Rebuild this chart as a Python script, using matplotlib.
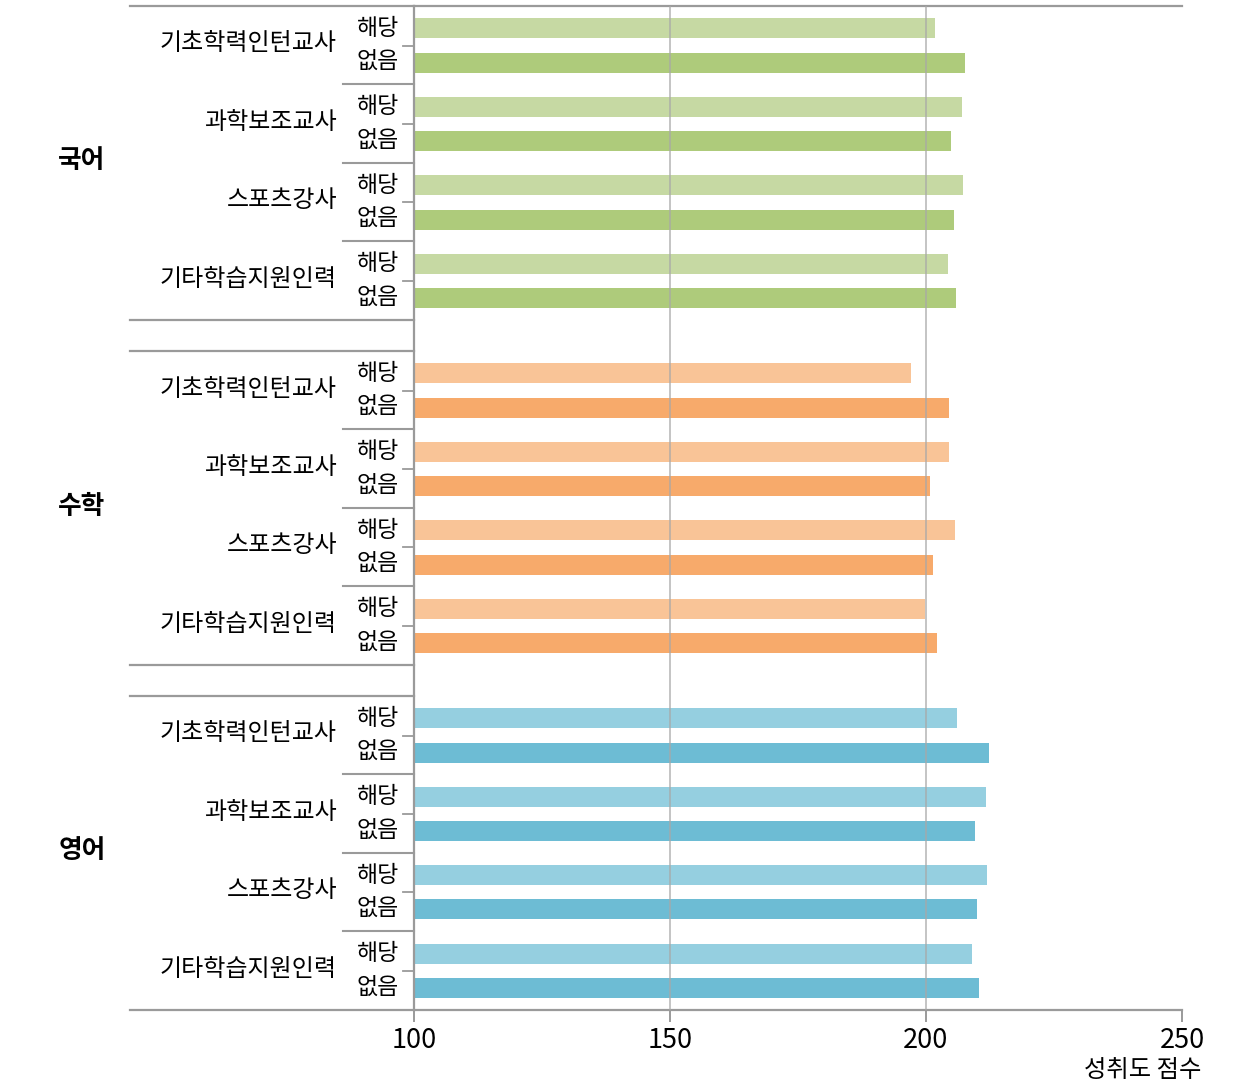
import matplotlib
matplotlib.use("Agg")
import matplotlib.pyplot as plt

plt.rcParams['font.family'] = ['Noto Sans CJK KR', 'DejaVu Sans']

# 데이터
subjects = ["국어", "수학", "영어"]
staff_types = ["기초학력인턴교사", "과학보조교사", "스포츠강사", "기타학습지원인력"]
status_labels = ["해당", "없음"]

kor_yes = [201.8, 207.0, 207.2, 204.3]
kor_no = [207.7, 204.9, 205.4, 205.8]
math_yes = [197.1, 204.5, 205.6, 199.8]
math_no = [204.5, 200.7, 201.3, 202.2]
eng_yes = [206.1, 211.7, 212.0, 209.0]
eng_no = [212.4, 209.5, 209.9, 210.4]

xticks = [100, 150, 200, 250]
xlabel = "성취도 점수"

series = [(kor_yes, kor_no), (math_yes, math_no), (eng_yes, eng_no)]
colors = [("#c6d9a3", "#aecb7b"), ("#f9c497", "#f7aa6b"), ("#95cfe0", "#6dbcd4")]

# 레이아웃 (픽셀 단위)
W, H = 1240, 1085
ax_left, ax_right = 414, 1182
y_top, y_bot = 6, 1010
group_pitch = 345
group_h = 314
sub_pitch = 78.4
pair_gap = 34.4
first_off = 22.3
bar_h = 20
line_col = "#9a9a9a"

fig = plt.figure(figsize=(W / 100, H / 100), dpi=100)
ax = fig.add_axes([ax_left / W, (H - y_bot) / H, (ax_right - ax_left) / W, (y_bot - y_top) / H])
ax.set_xlim(100, 250)
ax.set_ylim(y_bot, y_top)


def px_to_ax(px):
    return (px - ax_left) / (ax_right - ax_left)


ytr = ax.get_yaxis_transform()

for g, subj in enumerate(subjects):
    gtop = y_top + g * group_pitch
    yes_vals, no_vals = series[g]
    for k, name in enumerate(staff_types):
        y_yes = gtop + first_off + k * sub_pitch
        y_no = y_yes + pair_gap
        ax.barh(y_yes, yes_vals[k] - 100, left=100, height=bar_h, color=colors[g][0], zorder=2)
        ax.barh(y_no, no_vals[k] - 100, left=100, height=bar_h, color=colors[g][1], zorder=2)
        ax.text(px_to_ax(378), y_yes, status_labels[0], transform=ytr, ha="center", va="center",
                fontsize=16.5, clip_on=False)
        ax.text(px_to_ax(378), y_no, status_labels[1], transform=ytr, ha="center", va="center",
                fontsize=16.5, clip_on=False)
        ax.text(px_to_ax(337), (y_yes + y_no) / 2 - 2, name, transform=ytr, ha="right", va="center",
                fontsize=17.3, clip_on=False)
        # 해당/없음 사이 눈금
        ax.plot([px_to_ax(403), 0], [(y_yes + y_no) / 2] * 2, transform=ytr, color=line_col,
                lw=1.3, clip_on=False)
        if k > 0:
            ys = gtop + k * sub_pitch
            ax.plot([px_to_ax(342.5), 0], [ys, ys], transform=ytr, color=line_col, lw=1.5, clip_on=False)
    # 그룹 경계선
    gbot = gtop + group_h
    ax.plot([px_to_ax(130), 0], [gtop, gtop], transform=ytr, color=line_col, lw=1.6, clip_on=False)
    ax.plot([px_to_ax(130), 0], [gbot, gbot], transform=ytr, color=line_col, lw=1.6, clip_on=False)
    ax.text(px_to_ax(82), (gtop + gbot) / 2 - 2, subj, transform=ytr, ha="center", va="center",
            fontsize=18.5, fontweight="bold", clip_on=False)

# 위쪽 선
ax.plot([0, 1], [y_top, y_top], transform=ytr, color=line_col, lw=1.6, clip_on=False)

# 격자선
for xv in [150, 200]:
    ax.axvline(xv, color="#a8a8a8", lw=1.2, alpha=0.8, zorder=3)

for s in ["top", "right"]:
    ax.spines[s].set_visible(False)
for s in ["left", "bottom"]:
    ax.spines[s].set_color(line_col)
    ax.spines[s].set_linewidth(1.6)

ax.set_yticks([])
ax.set_xticks(xticks)
ax.set_xticklabels([str(v) for v in xticks], fontsize=19.5)
ax.tick_params(axis="x", direction="out", length=8.5, width=1.4, color=line_col, pad=4)

fig.text(1201 / W, 1 - 1070 / H, xlabel, ha="right", va="center", fontsize=17.5)

fig.savefig("out.png", dpi=100)
